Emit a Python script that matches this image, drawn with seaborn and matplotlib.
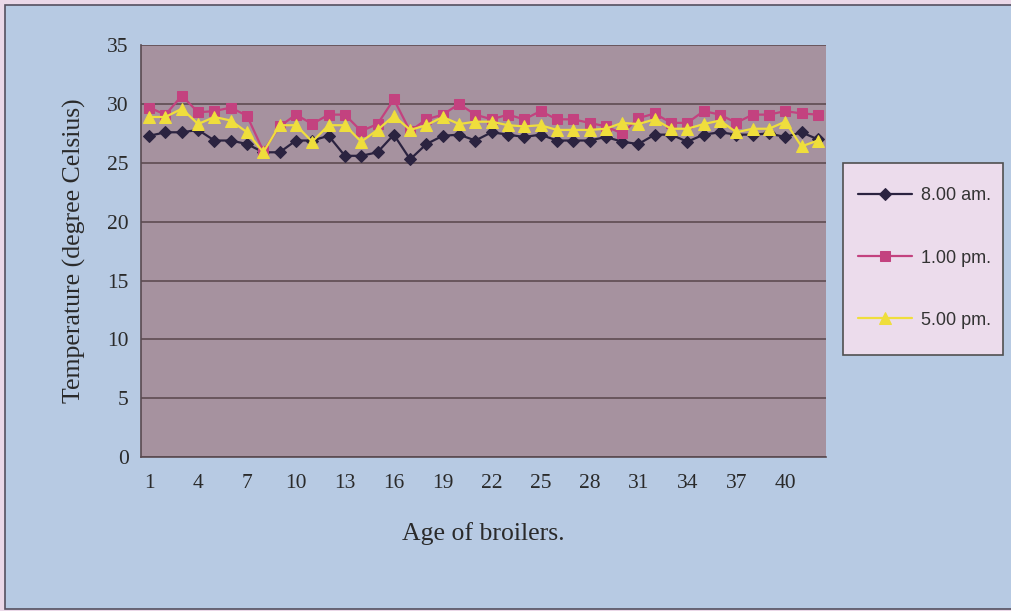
# Broiler house temperature at three times of day
import pandas as pd
import matplotlib
matplotlib.use("Agg")
import matplotlib.pyplot as plt
import matplotlib.patches as mpatches
import seaborn as sns

# Data
days = list(range(1, 43))
temp_8am = [27.3, 27.6, 27.6, 27.8, 26.9, 26.9, 26.6, 25.9, 25.9, 26.9,
            26.9, 27.3, 25.6, 25.6, 25.9, 27.4, 25.3, 26.6, 27.3, 27.4,
            26.9, 27.6, 27.4, 27.2, 27.4, 26.9, 26.9, 26.9, 27.2, 26.8,
            26.6, 27.4, 27.4, 26.8, 27.4, 27.6, 27.4, 27.4, 27.5, 27.2,
            27.6, 27.0]
temp_1pm = [29.7, 29.1, 30.7, 29.3, 29.4, 29.7, 29.0, 26.0, 28.1, 29.1,
            28.3, 29.1, 29.1, 27.7, 28.3, 30.4, 27.7, 28.7, 29.1, 30.0,
            29.1, 28.7, 29.1, 28.7, 29.4, 28.7, 28.7, 28.4, 28.1, 27.5,
            28.8, 29.2, 28.4, 28.4, 29.4, 29.1, 28.4, 29.1, 29.1, 29.4,
            29.2, 29.1]
temp_5pm = [28.9, 28.9, 29.6, 28.3, 28.9, 28.6, 27.6, 25.9, 28.2, 28.2,
            26.8, 28.2, 28.2, 26.8, 27.8, 29.0, 27.8, 28.2, 28.9, 28.3,
            28.5, 28.5, 28.2, 28.1, 28.2, 27.8, 27.8, 27.8, 27.9, 28.4,
            28.3, 28.7, 27.9, 27.9, 28.3, 28.6, 27.6, 27.9, 27.9, 28.5,
            26.4, 26.9]
series_labels = ["8.00 am.", "1.00 pm.", "5.00 pm."]
x_tick_labels = [1, 4, 7, 10, 13, 16, 19, 22, 25, 28, 31, 34, 37, 40]

sns.set_style("white")
serif = ["Liberation Serif", "DejaVu Serif"]
sans = ["Liberation Sans", "DejaVu Sans"]

fig = plt.figure(figsize=(10.11, 6.11), dpi=100)
fig.patch.set_facecolor("#ead8e8")
# blue chart area with a thin frame, kept behind the axes
frame = mpatches.Rectangle((5 / 1011, 2 / 611), 1.2, 604 / 611,
                           transform=fig.transFigure,
                           facecolor="#b7cae3", edgecolor="#555060",
                           linewidth=1.2, zorder=-5)
fig.patches.append(frame)
# legend box drawn separately so the entries can sit freely inside it
legbox = mpatches.Rectangle((843 / 1011, 1 - 355 / 611), 160 / 1011, 192 / 611,
                            transform=fig.transFigure,
                            facecolor="#ecdcec", edgecolor="#505050",
                            linewidth=1.2, zorder=-4)
fig.patches.append(legbox)

ax = fig.add_axes([0.1395, 0.252, 0.6775, 0.674])
ax.set_facecolor("#a6929f")

styles = [
    (temp_8am, "#2b2340", "D", 6.5),
    (temp_1pm, "#c3427f", "s", 7.5),
    (temp_5pm, "#efde3c", "^", 8.5),
]
for (vals, col, mk, ms), lab in zip(styles, series_labels):
    sns.lineplot(x=days, y=vals, ax=ax, color=col, marker=mk, markersize=ms,
                 markeredgecolor=col, linewidth=1.6, label=lab)

ax.set_xlim(0.5, 42.5)
ax.set_ylim(0, 35)
ax.set_yticks(range(0, 36, 5))
ax.yaxis.grid(True, color="#5e4c52", linewidth=1.2)
ax.xaxis.grid(False)

ax.set_xticks(x_tick_labels)
ax.set_xticks([i + 0.5 for i in range(0, 43)], minor=True)
ax.tick_params(axis="x", which="major", length=0, pad=12)
ax.tick_params(axis="x", which="minor", length=4, width=1, color="#555")
ax.tick_params(axis="y", length=5, width=1, color="#555", pad=4)
for t in ax.get_xticklabels() + ax.get_yticklabels():
    t.set_family(serif)
    t.set_fontsize(15.5)
    t.set_color("#2a2a2a")

for s in ["top", "right"]:
    ax.spines[s].set_visible(False)
for s in ["left", "bottom"]:
    ax.spines[s].set_color("#5a4a50")
    ax.spines[s].set_linewidth(1.2)

ax.set_xlabel("Age of broilers.", family=serif, fontsize=18.5, color="#2a2a2a", labelpad=21)
ax.set_ylabel("Temperature (degree Celsius)", family=serif, fontsize=18.5,
              color="#2a2a2a", labelpad=15)

handles, labels = ax.get_legend_handles_labels()
ax.get_legend().remove()
leg = fig.legend(handles, labels, loc="upper left",
                 bbox_to_anchor=(858 / 1011, 1 - 187.5 / 611),
                 prop={"family": sans, "size": 13}, frameon=False,
                 labelspacing=2.5, borderpad=0, handlelength=3.0,
                 handletextpad=0.5, borderaxespad=0)
for t in leg.get_texts():
    t.set_color("#333333")

fig.savefig("out.png", dpi=100, facecolor=fig.get_facecolor())
